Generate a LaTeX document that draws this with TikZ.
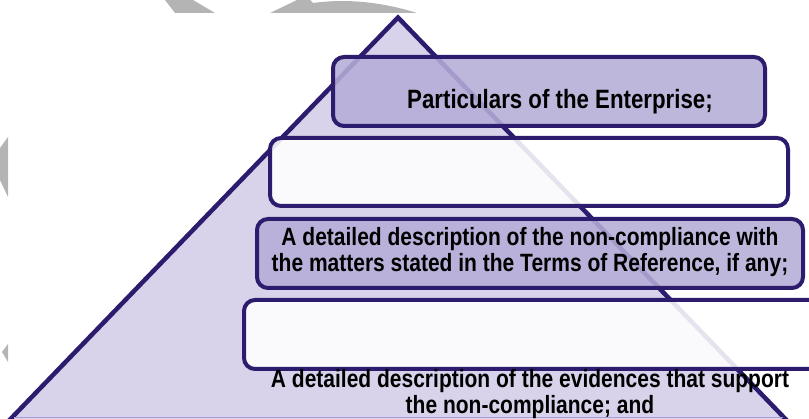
\documentclass[tikz,border=0pt]{standalone}
\usepackage{fontspec}
\setmainfont{Liberation Sans}[FakeStretch=0.84]
\definecolor{navy}{HTML}{2D1C6E}
\definecolor{pyrfill}{HTML}{D8D3EA}
\definecolor{tierfill}{HTML}{B5ADD7}
\definecolor{markgray}{HTML}{B4B4B4}
\definecolor{baseedge}{HTML}{A79DD9}
\begin{document}
\begin{tikzpicture}[x=1pt,y=-1pt,
  every node/.style={inner sep=0pt, outer sep=0pt},
  tier/.style={draw=navy, line width=4pt, rounded corners=11pt,
    fill=tierfill, fill opacity=0.88, text opacity=1, anchor=north west},
  blanktier/.style={tier, fill=white},
  tiertext/.style={font=\bfseries\fontsize{25}{26.5}\selectfont,
    align=center, text=black}]
\path[use as bounding box, clip] (0,0) rectangle (809,419);

% grey background marks
\fill[markgray] (165,0) -- (193,0) -- (215,13) -- (175,13) -- cycle;
\fill[markgray] (270,13) -- (297,0) -- (310,0) -- (313,3)
  .. controls (350,-2) and (385,3) .. (417,13) -- cycle;
\fill[markgray] (0,148) -- (8,137) -- (8,197) -- (0,180) -- cycle;
\fill[markgray] (2,352) -- (8,344) -- (8,362) -- cycle;

% pyramid
\fill[pyrfill] (398,17.5) -- (-2,432) -- (798,432) -- cycle;
\draw[navy, line width=4.5pt, line join=miter] (-2,432) -- (398,17.5) -- (798,432);
\draw[baseedge, line width=1.5pt] (14,417.5) -- (783,417.5);

% tiers
\node[tier, minimum width=432pt, minimum height=69pt] (tier1) at (333,57) {};
\node[blanktier, minimum width=518pt, minimum height=68pt] (tier2) at (270,138) {};
\node[tier, minimum width=546pt, minimum height=69pt] (tier3) at (257,219) {};
\node[blanktier, minimum width=600pt, minimum height=69pt] (tier4) at (244,300) {};

% labels
\node[tiertext, font=\bfseries\fontsize{26.5}{28}\selectfont, anchor=base] (lab1) at (560,109)
  {Particulars of the Enterprise;};
\node[tiertext] (lab3) at (530,252)
  {A detailed description of the non-compliance with\\the matters stated in the Terms of Reference, if any;};
\node[tiertext] (lab5) at (530,394)
  {A detailed description of the evidences that support\\the non-compliance; and};
\end{tikzpicture}
\end{document}
